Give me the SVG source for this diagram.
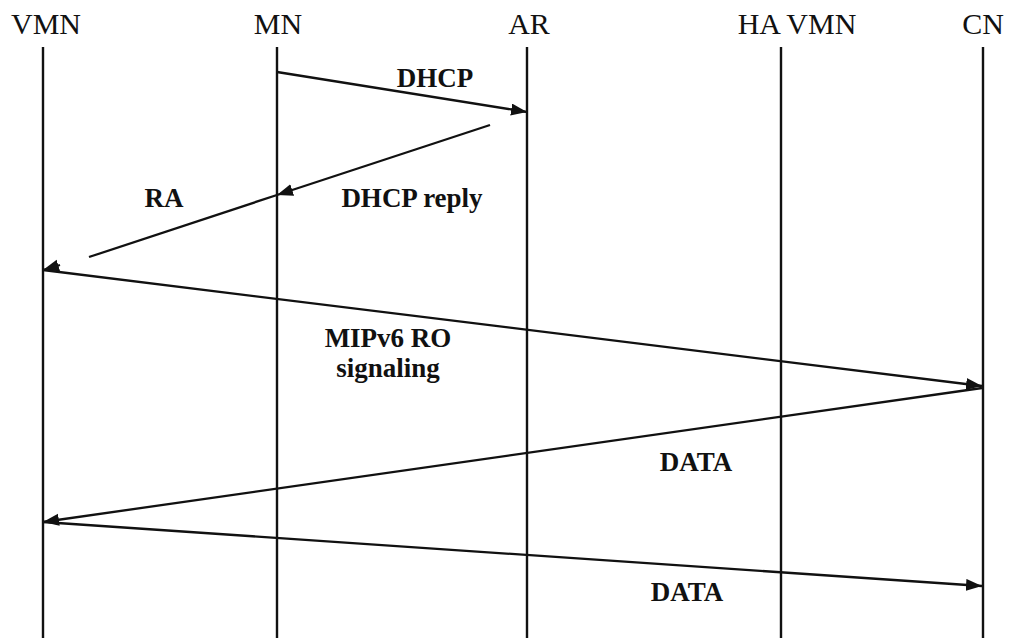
<svg xmlns="http://www.w3.org/2000/svg" width="1015" height="638" viewBox="0 0 1015 638">
  <style>
    .title { font-family: "Liberation Serif", "Times New Roman", serif; font-size: 30px; fill: #111; text-anchor: middle; }
    .label { font-family: "Liberation Serif", "Times New Roman", serif; font-size: 27px; font-weight: bold; fill: #111; text-anchor: middle; }
    .life { stroke: #111; stroke-width: 2.4; fill: none; }
    .msg { stroke: #111; stroke-width: 2.3; fill: none; }
  </style>
  <defs>
    <marker id="arrow" markerUnits="userSpaceOnUse" markerWidth="18" markerHeight="14" refX="16" refY="6" orient="auto">
      <path d="M0,0 L16,6 L0,12 z" fill="#111"/>
    </marker>
  </defs>
  <rect width="1015" height="638" fill="#fff"/>

  <!-- participants: name and lifeline -->
  <g id="vmn">
    <text class="title" x="46" y="34">VMN</text>
    <line class="life" x1="43" y1="47" x2="43" y2="638"/>
  </g>
  <g id="mn">
    <text class="title" x="278" y="34">MN</text>
    <line class="life" x1="277" y1="47" x2="277" y2="638"/>
  </g>
  <g id="ar">
    <text class="title" x="529" y="34">AR</text>
    <line class="life" x1="527" y1="47" x2="527" y2="638"/>
  </g>
  <g id="ha-vmn">
    <text class="title" x="797" y="34">HA VMN</text>
    <line class="life" x1="781" y1="47" x2="781" y2="638"/>
  </g>
  <g id="cn">
    <text class="title" x="983" y="34">CN</text>
    <line class="life" x1="983" y1="47" x2="983" y2="638"/>
  </g>

  <!-- messages -->
  <g id="connectors">
    <line class="msg" x1="277" y1="72" x2="527" y2="112" marker-end="url(#arrow)"/>
    <line class="msg" x1="490" y1="125" x2="277" y2="195" marker-end="url(#arrow)"/>
    <line class="msg" x1="277" y1="195" x2="89" y2="257"/>
    <line class="msg" x1="60" y1="265" x2="43" y2="270" marker-end="url(#arrow)"/>
    <line class="msg" x1="43" y1="270" x2="982" y2="386" marker-end="url(#arrow)"/>
    <line class="msg" x1="982" y1="388" x2="43" y2="522" marker-end="url(#arrow)"/>
    <line class="msg" x1="43" y1="522" x2="982" y2="586" marker-end="url(#arrow)"/>
  </g>

  <!-- message labels -->
  <g id="labels">
    <text class="label" x="435" y="87">DHCP</text>
    <text class="label" x="164" y="207">RA</text>
    <text class="label" x="412" y="207">DHCP reply</text>
    <text class="label" x="388" y="347">MIPv6 RO</text>
    <text class="label" x="388" y="377">signaling</text>
    <text class="label" x="696" y="471">DATA</text>
    <text class="label" x="687" y="601">DATA</text>
  </g>
</svg>
